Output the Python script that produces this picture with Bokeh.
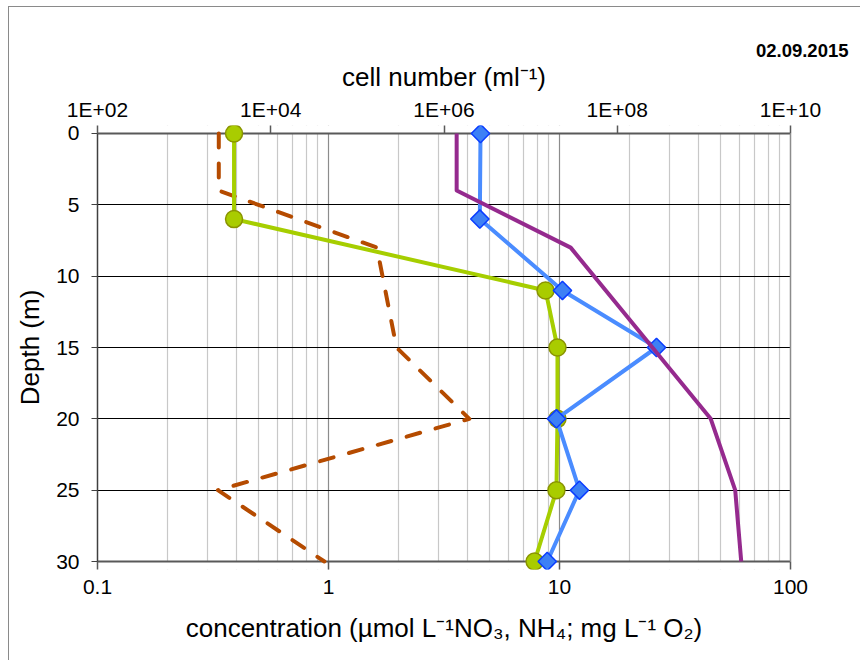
import math
from bokeh.plotting import figure
from bokeh.models import (LogAxis, LinearAxis, Range1d, LogScale, FixedTicker,
                          CustomJSTickFormatter, BoxAnnotation, Grid, Title)
from bokeh.embed import file_html
from bokeh.resources import INLINE

# ---------------- data ----------------
depth_no3 = [0, 6, 11, 15, 20, 25, 30]
no3 = [0.39, 0.39, 8.7, 9.8, 9.8, 9.7, 7.8]

depth_nh4 = [0, 4, 8, 15, 20, 25, 30]
nh4 = [0.335, 0.335, 1.62, 1.97, 4.07, 0.332, 0.96]

depth_o2 = [0, 6, 11, 15, 20, 25, 30]
o2 = [4.55, 4.52, 10.3, 26.3, 9.7, 12.2, 8.85]

depth_cells = [0, 4, 8, 20, 25, 30]
cells = [1.4e6, 1.4e6, 2.9e7, 1.2e9, 2.3e9, 2.7e9]

conc_ticks = [0.1, 1, 10, 100]
conc_tick_labels = ["0.1", "1", "10", "100"]
cell_ticks = [1e2, 1e4, 1e6, 1e8, 1e10]
cell_tick_labels = ["1E+02", "1E+04", "1E+06", "1E+08", "1E+10"]
depth_ticks = [0, 5, 10, 15, 20, 25, 30]
date_text = "02.09.2015"

FONT = "Liberation Sans"
PAD = 0.56  # extra depth room (about 8 px) so markers at 0 / 30 are not clipped

p = figure(width=852, height=654, x_axis_type="log",
           x_range=Range1d(conc_ticks[0], conc_ticks[-1]),
           y_range=Range1d(depth_ticks[-1] + PAD, depth_ticks[0] - PAD),
           output_backend="svg", toolbar_location=None,
           min_border_left=88, min_border_right=71,
           min_border_top=118, min_border_bottom=92)
p.outline_line_color = None
p.background_fill_color = "white"
p.border_fill_color = "white"
p.styles = {"margin-left": "8px", "margin-top": "6px",
            "border-left": "1px solid #8a8a8a", "border-top": "1px solid #8a8a8a"}

p.extra_x_ranges = {"cells": Range1d(cell_ticks[0], cell_ticks[-1])}
p.extra_x_scales = {"cells": LogScale()}

minor = [k * 10.0 ** e for e in (-1, 0, 1) for k in range(2, 10)]

def fmt(vals, labs):
    return CustomJSTickFormatter(args=dict(v=vals, l=labs), code="""
        let best = 0, bd = Infinity;
        for (let i = 0; i < v.length; i++) {
            const d = Math.abs(Math.log10(v[i]) - Math.log10(tick));
            if (d < bd) { bd = d; best = i; }
        }
        return l[best];
    """)

# title = date, top right
p.title = Title(text=date_text, align="right", offset=-58, text_font=FONT,
                text_font_size="18.5px", text_font_style="bold", text_color="black",
                standoff=4)

# bottom axis (concentration)
xa = p.xaxis[0]
xa.ticker = FixedTicker(ticks=conc_ticks, minor_ticks=minor)
xa.formatter = fmt(conc_ticks, conc_tick_labels)
xa.axis_label = "concentration (µmol L⁻¹NO₃, NH₄; mg L⁻¹ O₂)"

# top axis (cell number)
ta = LogAxis(x_range_name="cells",
             ticker=FixedTicker(ticks=cell_ticks, minor_ticks=[]),
             formatter=fmt(cell_ticks, cell_tick_labels),
             axis_label="cell number (ml⁻¹)")
p.add_layout(ta, "above")

for ax in (xa, ta):
    ax.axis_line_color = None
    ax.major_tick_line_color = "#595959"
    ax.major_tick_line_width = 1.5
    ax.major_tick_out = 0
    ax.major_tick_in = 8
    ax.minor_tick_out = 0
    ax.minor_tick_in = 0
    ax.major_label_text_font = FONT
    ax.major_label_text_font_size = "21px"
    ax.major_label_text_color = "black"
    ax.axis_label_text_font = FONT
    ax.axis_label_text_font_size = "26px"
    ax.axis_label_text_font_style = "normal"
    ax.axis_label_text_color = "black"
xa.major_label_standoff = 10
xa.axis_label_standoff = 16
ta.major_label_standoff = 5
ta.axis_label_standoff = 3

# left axis (depth)
ya = p.yaxis[0]
ya.ticker = FixedTicker(ticks=depth_ticks, minor_ticks=[])
ya.bounds = (depth_ticks[0], depth_ticks[-1])
ya.axis_label = "Depth (m)"
ya.axis_line_color = "#404040"
ya.axis_line_width = 1.5
ya.major_tick_line_color = "#404040"
ya.major_tick_out = 6
ya.major_tick_in = 0
ya.minor_tick_out = 0
ya.minor_tick_in = 0
ya.major_label_standoff = 12
ya.major_label_text_font = FONT
ya.major_label_text_font_size = "21px"
ya.major_label_text_color = "black"
ya.axis_label_text_font = FONT
ya.axis_label_text_font_size = "26px"
ya.axis_label_text_font_style = "normal"
ya.axis_label_text_color = "black"
ya.axis_label_standoff = 8

# right frame edge
ra = LinearAxis(ticker=FixedTicker(ticks=[]), bounds=(depth_ticks[0], depth_ticks[-1]),
                axis_line_color="#8c8c8c", axis_line_width=1.5,
                major_tick_out=0, major_tick_in=0, minor_tick_out=0, minor_tick_in=0,
                major_label_text_font_size="0px")
p.add_layout(ra, "right")

# grids
p.xgrid.ticker = xa.ticker
p.xgrid.grid_line_color = "#8c8c8c"
p.xgrid.grid_line_width = 1.2
p.xgrid.minor_grid_line_color = "#c8c8c8"
p.xgrid.minor_grid_line_width = 1.2
p.ygrid.ticker = ya.ticker
p.ygrid.grid_line_color = "black"
p.ygrid.grid_line_width = 1

# white covers for the padding strips above 0 m and below 30 m
for top, bottom in ((depth_ticks[0] - PAD, depth_ticks[0]), (depth_ticks[-1], depth_ticks[-1] + PAD)):
    p.add_layout(BoxAnnotation(left=conc_ticks[0], right=conc_ticks[-1], top=top, bottom=bottom,
                               fill_color="white", fill_alpha=1, line_color=None, level="underlay"))

# top / bottom axis lines (at 0 m and 30 m)
p.add_layout(Grid(dimension=1, ticker=FixedTicker(ticks=[depth_ticks[0], depth_ticks[-1]]),
                  grid_line_color="#595959", grid_line_width=2))

# series
p.line(nh4, depth_nh4, line_color="#b54b00", line_width=4, line_dash="14 16",
       line_cap="round", line_join="round")

p.line(no3, depth_no3, line_color="#a6ce00", line_width=4, line_join="round")
p.scatter(no3, depth_no3, marker="circle", size=17, fill_color="#a9cc00",
          line_color="#8a9400", line_width=1.5)

p.line(o2, depth_o2, line_color="#4a8cff", line_width=4, line_join="round")
p.scatter(o2, depth_o2, marker="square", angle=math.pi / 4, size=13,
          fill_color="#3d80f5", line_color="#0a3cff", line_width=1.5)

p.line(cells, depth_cells, x_range_name="cells", line_color="#952a8e", line_width=4,
       line_join="round")

open("out.html", "w").write(file_html(p, INLINE))
